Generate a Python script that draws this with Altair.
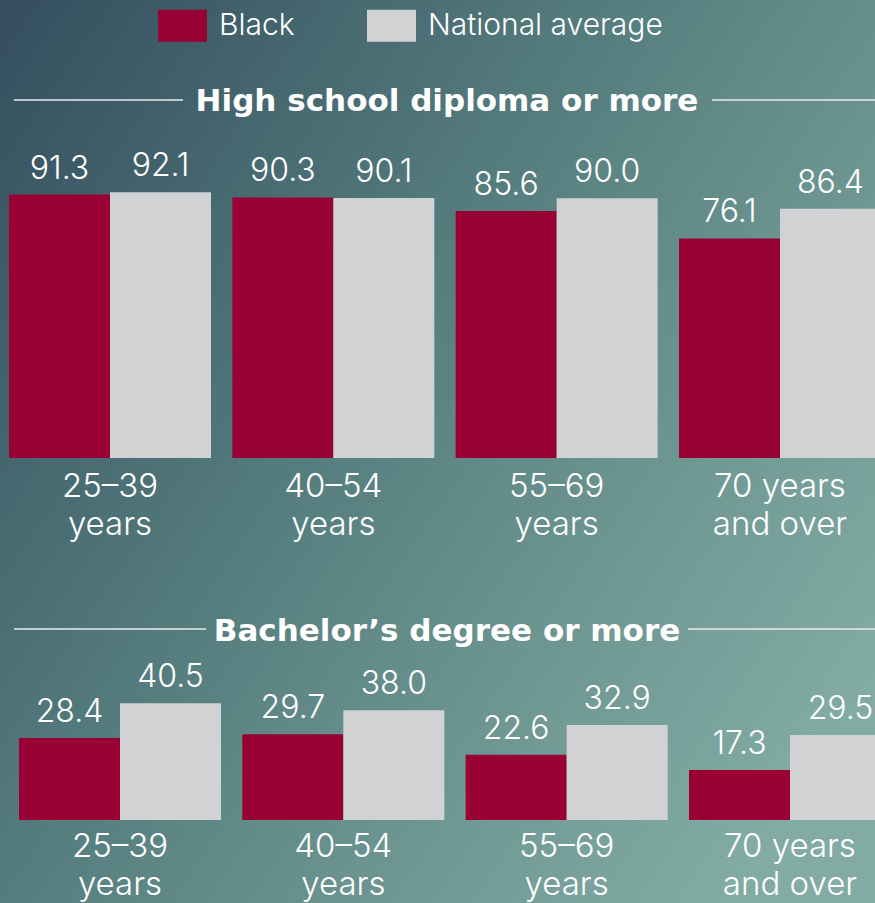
import altair as alt
import pandas as pd

# ---- data ----
groups = ["25–39\nyears", "40–54\nyears", "55–69\nyears", "70 years\nand over"]
series = ["Black", "National average"]
hs_black = [91.3, 90.3, 85.6, 76.1]
hs_nat = [92.1, 90.1, 90.0, 86.4]
ba_black = [28.4, 29.7, 22.6, 17.3]
ba_nat = [40.5, 38.0, 32.9, 29.5]
titles = ["High school diploma or more", "Bachelor’s degree or more"]

RED = "#990033"
GRAY = "#d1d2d4"
FONT = "Inter"
TFONT = "DejaVu Sans"
W, H = 875, 903


def frame(b, n):
    rows = []
    for g, vb, vn in zip(groups, b, n):
        rows.append({"group": g, "series": series[0], "value": vb, "label": f"{vb:.1f}"})
        rows.append({"group": g, "series": series[1], "value": vn, "label": f"{vn:.1f}"})
    return pd.DataFrame(rows)


hs = frame(hs_black, hs_nat)
ba = frame(ba_black, ba_nat)

legend = alt.Legend(
    title=None, orient="none", legendX=158, legendY=1, direction="horizontal",
    symbolType="M-1,-0.653H1V0.653H-1Z", symbolSize=2401, symbolStrokeWidth=0,
    symbolOpacity=1, labelFontSize=30, labelColor="white", labelFont=FONT,
    labelFontWeight=300, labelOffset=12, columnPadding=72, padding=0, labelLimit=0,
)
color = alt.Color("series:N", sort=series,
                  scale=alt.Scale(domain=series, range=[RED, GRAY]), legend=legend)


def panel(df, x0, base, cat_y):
    xs = alt.X("group:N", sort=groups, axis=None,
               scale=alt.Scale(type="band", range=[x0, x0 + 872],
                               paddingInner=0.0955, paddingOuter=0))
    xo = alt.XOffset("series:N", sort=series, scale=alt.Scale(paddingInner=0, paddingOuter=0))
    ys = alt.Y("value:Q", axis=None, scale=alt.Scale(domain=[0, 100], range=[base, base - 288.5]))
    base_chart = alt.Chart(df)
    bars = base_chart.mark_bar(size=101, strokeWidth=0).encode(x=xs, xOffset=xo, y=ys, color=color)
    vals = base_chart.mark_text(
        baseline="alphabetic", dy=-16, fontSize=32, font=FONT, fontWeight=300, color="white",
    ).encode(x=xs, xOffset=xo, y=ys, text="label:N")
    cats = alt.Chart(pd.DataFrame({"group": groups})).mark_text(
        baseline="alphabetic", lineBreak="\n", lineHeight=38, fontSize=33, font=FONT,
        fontWeight=300, color="white",
    ).encode(x=xs, y=alt.value(cat_y), text="group:N")
    return [bars, vals, cats]


gradient = alt.LinearGradient(
    gradient="linear", x1=0, y1=0.05, x2=1, y2=0.75,
    stops=[alt.GradientStop(color="#36505f", offset=0),
           alt.GradientStop(color="#557d7e", offset=0.45),
           alt.GradientStop(color="#6f9893", offset=0.75),
           alt.GradientStop(color="#82aba4", offset=1)],
)
one = pd.DataFrame({"a": [0]})
bg = alt.Chart(one).mark_rect(color=gradient).encode(
    x=alt.value(0), x2=alt.value(W), y=alt.value(0), y2=alt.value(H))


def rule(xa, xb, y):
    return alt.Chart(one).mark_rule(color="#e6ecec", strokeWidth=1.5).encode(
        x=alt.value(xa), x2=alt.value(xb), y=alt.value(y))


def title(t, y):
    return alt.Chart(pd.DataFrame({"t": [t]})).mark_text(
        fontSize=31, font=TFONT, fontWeight="bold", color="white", baseline="alphabetic",
    ).encode(x=alt.value(447), y=alt.value(y), text="t:N")


layers = [bg,
          rule(14, 183, 100), rule(712, W, 100), title(titles[0], 111),
          rule(14, 206, 629), rule(688, W, 629), title(titles[1], 641)]
layers += panel(hs, 9, 458, 497)
layers += panel(ba, 19, 820, 857)

chart = alt.layer(*layers).resolve_scale(x="independent", y="independent").properties(
    width=W, height=H, padding=0, autosize=alt.AutoSizeParams(type="none"),
    background="#4a6b70",
).configure_view(stroke=None)

chart.save("out.html", embed_options={"renderer": "svg", "actions": False})
